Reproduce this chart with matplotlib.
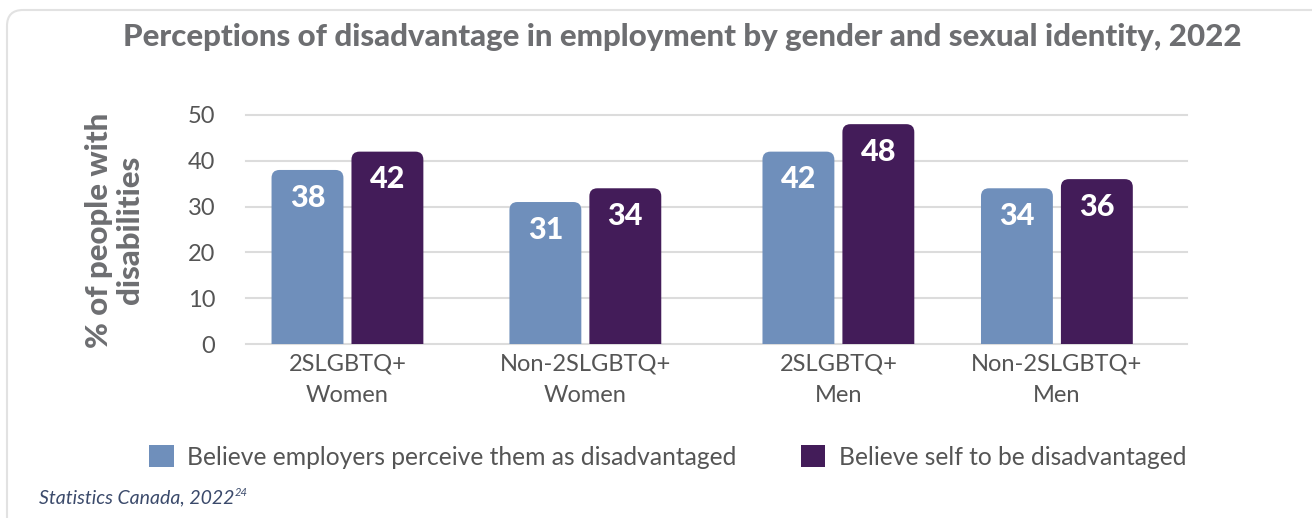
import numpy as np
import matplotlib.pyplot as plt
from matplotlib.patches import FancyBboxPatch, Patch
from matplotlib.transforms import IdentityTransform

plt.rcParams['font.family'] = ['Lato', 'DejaVu Sans']

categories = ['2SLGBTQ+\nWomen', 'Non-2SLGBTQ+\nWomen', '2SLGBTQ+\nMen', 'Non-2SLGBTQ+\nMen']
employers = [38, 31, 42, 34]
self_view = [42, 34, 48, 36]
series_names = ['Believe employers perceive them as disadvantaged',
                'Believe self to be disadvantaged']
yticks = [0, 10, 20, 30, 40, 50]

BLUE = '#6f8fbb'
PURPLE = '#431c59'
GREY_TXT = '#6d6e71'
TICK_TXT = '#555555'
GRID = '#dcdcdc'

# group centres (slightly uneven, as laid out in the report)
group_x = np.array([0, 1.006, 2.076, 3.0])
bar_w = 0.304
offset = 0.169

fig = plt.figure(figsize=(13.12, 5.18), dpi=100)

# card outline behind everything
card = FancyBboxPatch((7, -60), 1400, 568, boxstyle='round,pad=0,rounding_size=16',
                      transform=IdentityTransform(), facecolor='white',
                      edgecolor='#e2e2e2', linewidth=1.5, zorder=0)
fig.add_artist(card)

ax = fig.add_axes([0.1875, 0.3359, 0.7172, 0.4421])
ax.set_xlim(-0.429, 3.55)
ax.set_ylim(0, 50)
ax.patch.set_visible(False)
for s in ax.spines.values():
    s.set_visible(False)

for y in yticks:
    ax.axhline(y, color=GRID, linewidth=1.5, zorder=1, clip_on=False)

# px -> data conversion for round corners
ax_w_px = 0.7172 * 1312
ax_h_px = 0.4421 * 518
x_per_px = (3.55 + 0.429) / ax_w_px
y_per_px = 50 / ax_h_px
radius_px = 8


def rounded_bar(x, h, color):
    left = x - bar_w / 2
    p = FancyBboxPatch((left, -5), bar_w, h + 5,
                       boxstyle='round,pad=0,rounding_size=%f' % (radius_px * x_per_px),
                       mutation_aspect=y_per_px / x_per_px,
                       facecolor=color, edgecolor='none', zorder=2)
    ax.add_patch(p)
    ax.annotate(str(h), xy=(x, h), xytext=(0, -20), textcoords='offset points',
                ha='center', va='center', color='white', fontsize=22,
                fontweight='black', zorder=3)


for i in range(len(categories)):
    rounded_bar(group_x[i] - offset, employers[i], BLUE)
    rounded_bar(group_x[i] + offset, self_view[i], PURPLE)

ax.set_yticks(yticks)
ax.set_yticklabels([str(t) for t in yticks], fontsize=17, color=TICK_TXT)
ax.set_xticks(group_x)
ax.set_xticklabels(categories, fontsize=17, color=TICK_TXT, linespacing=1.6)
ax.tick_params(axis='y', length=0, pad=22)
ax.tick_params(axis='x', length=0, pad=7)

fig.text(0.52, 0.928, 'Perceptions of disadvantage in employment by gender and sexual identity, 2022',
         ha='center', va='center', fontsize=22.5, fontweight='black', color=GREY_TXT)

fig.text(0.0873, 0.556, '% of people with\ndisabilities', rotation=90, ha='center', va='center',
         fontsize=22.5, fontweight='black', color=GREY_TXT, linespacing=1.1)

handles = [Patch(facecolor=BLUE, edgecolor='none'), Patch(facecolor=PURPLE, edgecolor='none')]
leg = fig.legend(handles, series_names, loc='center', bbox_to_anchor=(0.509, 0.118), ncol=2,
                 frameon=False, fontsize=17.7, handlelength=1.0, handleheight=1.0,
                 handletextpad=0.55, columnspacing=2.6)
for t in leg.get_texts():
    t.set_color(TICK_TXT)

src = fig.text(0.0297, 0.029, 'Statistics Canada, 2022', ha='left', va='baseline',
               fontsize=14, style='italic', color='#3b4a6b')
ax.annotate('24', xy=(1, 0.8), xycoords=src, ha='left', va='center',
            fontsize=8, style='italic', color='#3b4a6b')

fig.savefig('out.png', dpi=100)
